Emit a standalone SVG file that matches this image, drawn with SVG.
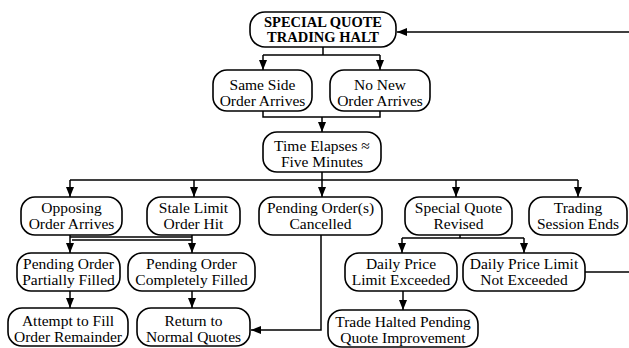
<svg xmlns="http://www.w3.org/2000/svg" width="629" height="348" viewBox="0 0 629 348">
<style>
.n rect{fill:#fff;stroke:#000;stroke-width:1.6}
.n text{font-family:"Liberation Serif","Times New Roman",serif;font-size:15.5px;text-anchor:middle;fill:#000}
.n text.b{font-weight:bold;font-size:14.5px}
.c path{fill:none;stroke:#000;stroke-width:1.5}
</style>
<defs>
<marker id="ah" viewBox="0 0 10 8" refX="10" refY="4" markerWidth="10" markerHeight="8" markerUnits="userSpaceOnUse" orient="auto">
<path d="M0,0 L10,4 L0,8 z" fill="#000"/>
</marker>
</defs>
<rect width="629" height="348" fill="#fff"/>
<g class="c" id="connectors">
<path d="M629,32 H397" marker-end="url(#ah)"/>
<path d="M323,47 V55 M263,55 H380"/>
<path d="M263,55 V70" marker-end="url(#ah)"/>
<path d="M380,55 V70" marker-end="url(#ah)"/>
<path d="M263,111 V117 H380 V111"/>
<path d="M322,117 V132" marker-end="url(#ah)"/>
<path d="M322,172 V180 M70,180 H578"/>
<path d="M70,180 V197" marker-end="url(#ah)"/>
<path d="M194,180 V197" marker-end="url(#ah)"/>
<path d="M322,180 V197" marker-end="url(#ah)"/>
<path d="M456,180 V197" marker-end="url(#ah)"/>
<path d="M578,180 V197" marker-end="url(#ah)"/>
<path d="M70,235 V253" marker-end="url(#ah)"/>
<path d="M192,235 V253" marker-end="url(#ah)"/>
<path d="M70,237 H192 M72,240 H192"/>
<path d="M460,235 V238 M402,238 H524"/>
<path d="M402,238 V253" marker-end="url(#ah)"/>
<path d="M524,238 V253" marker-end="url(#ah)"/>
<path d="M585,272 H629"/>
<path d="M321,235 V330 H251" marker-end="url(#ah)"/>
<path d="M70,291 V308" marker-end="url(#ah)"/>
<path d="M192,291 V308" marker-end="url(#ah)"/>
<path d="M403,291 V310" marker-end="url(#ah)"/>
</g>
<g class="n" id="halt"><rect x="250" y="12" width="146" height="35" rx="15"/><text class="b" x="323" y="27">SPECIAL QUOTE</text><text class="b" x="323" y="42">TRADING HALT</text></g>
<g class="n" id="same-side"><rect x="213" y="70" width="99" height="41" rx="14"/><text x="262.5" y="90">Same Side</text><text x="262.5" y="106">Order Arrives</text></g>
<g class="n" id="no-new"><rect x="330" y="70" width="100" height="41" rx="14"/><text x="380" y="90">No New</text><text x="380" y="106">Order Arrives</text></g>
<g class="n" id="time-elapses"><rect x="263" y="132" width="118" height="40" rx="14"/><text x="322" y="151">Time Elapses ≈</text><text x="322" y="167">Five Minutes</text></g>
<g class="n" id="opposing"><rect x="21" y="197" width="101" height="38" rx="14"/><text x="71.5" y="213">Opposing</text><text x="71.5" y="229">Order Arrives</text></g>
<g class="n" id="stale"><rect x="147" y="197" width="93" height="38" rx="14"/><text x="193.5" y="213">Stale Limit</text><text x="193.5" y="229">Order Hit</text></g>
<g class="n" id="cancelled"><rect x="259" y="197" width="123" height="38" rx="14"/><text x="320.5" y="213">Pending Order(s)</text><text x="320.5" y="229">Cancelled</text></g>
<g class="n" id="sq-revised"><rect x="405" y="197" width="107" height="38" rx="14"/><text x="458.5" y="213">Special Quote</text><text x="458.5" y="229">Revised</text></g>
<g class="n" id="session-ends"><rect x="529" y="197" width="98" height="38" rx="14"/><text x="578" y="213">Trading</text><text x="578" y="229">Session Ends</text></g>
<g class="n" id="partial"><rect x="17" y="253" width="103" height="38" rx="14"/><text x="68.5" y="269">Pending Order</text><text x="68.5" y="285">Partially Filled</text></g>
<g class="n" id="complete"><rect x="128" y="253" width="127" height="38" rx="14"/><text x="191.5" y="269">Pending Order</text><text x="191.5" y="285">Completely Filled</text></g>
<g class="n" id="dpl-exceeded"><rect x="345" y="253" width="112" height="38" rx="14"/><text x="401" y="269">Daily Price</text><text x="401" y="285">Limit Exceeded</text></g>
<g class="n" id="dpl-not"><rect x="463" y="253" width="122" height="38" rx="14"/><text x="524" y="269">Daily Price Limit</text><text x="524" y="285">Not Exceeded</text></g>
<g class="n" id="attempt"><rect x="8" y="308" width="120" height="38" rx="14"/><text x="68" y="326">Attempt to Fill</text><text x="68" y="342">Order Remainder</text></g>
<g class="n" id="return"><rect x="137" y="308" width="113" height="38" rx="14"/><text x="193.5" y="326">Return to</text><text x="193.5" y="342">Normal Quotes</text></g>
<g class="n" id="trade-halted"><rect x="328" y="310" width="150" height="37" rx="14"/><text x="403" y="327">Trade Halted Pending</text><text x="403" y="343">Quote Improvement</text></g>
</svg>
